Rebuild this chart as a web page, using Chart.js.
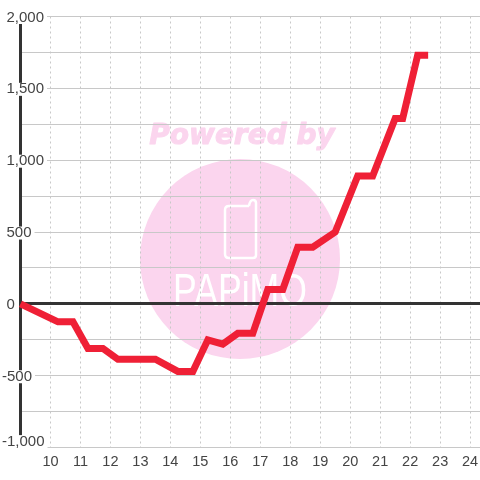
<!DOCTYPE html>
<html><head><meta charset="utf-8">
<style>html,body{margin:0;padding:0;background:#fff}#w{width:480px;height:480px;position:relative}</style>
<script src="https://cdn.jsdelivr.net/npm/chart.js@4"></script>
</head><body><div id="w"><canvas id="c" width="480" height="480"></canvas></div>
<script>
const hours = [9,10.25,10.75,11.25,11.75,12.25,13.5,14.25,14.75,15.25,15.75,16.25,16.75,17.25,17.75,18.25,18.75,19.5,20.25,20.75,21.5,21.75,22.25,22.6];
const profit = [0,-125,-125,-310,-310,-385,-385,-470,-470,-250,-280,-205,-205,100,100,395,395,500,890,890,1290,1290,1730,1730];
const yMin=-1000, yMax=2000, yStep=250, labelStep=500;
const xMin=9, xMax=24.33;
const watermarkTop='Powered by', watermarkBrand='PAPiMO';

const watermark={id:'watermark',
 afterLayout(chart){
  const s=chart.scales.y;
  s._computeLabelArea=()=>null;
  const orig=s._computeLabelItems.bind(s);
  s._computeLabelItems=ca=>{
    const items=orig(ca);
    items.forEach(it=>{
      const o=it.options;
      o.translation[1]+=(it.label==='-1,000'?-6:1);
      o.translation[0]=String(it.label).startsWith('-')?2:6.5;
      o.textAlign='left';
      if(o.backdrop) o.backdrop.left=-1;
    });
    return items;
  };
 },
 beforeDraw(chart){
  const c=chart.ctx; c.save();
  c.fillStyle='#fff'; c.fillRect(0,0,480,480);
  c.fillStyle='#fbd5ee';
  c.beginPath(); c.arc(240,259,100,0,Math.PI*2); c.fill();
  c.font='italic bold 28px "DejaVu Sans"'; c.textAlign='center'; c.textBaseline='alphabetic';
  c.strokeStyle='#fbd5ee'; c.lineWidth=1; c.lineJoin='round';
  c.fillText(watermarkTop,242,144); c.strokeText(watermarkTop,242,144);
  c.strokeStyle='#fff'; c.lineWidth=2.5;
  c.beginPath();
  c.moveTo(249,206); c.lineTo(229,206); c.quadraticCurveTo(225,206,225,210);
  c.lineTo(225,254); c.quadraticCurveTo(225,258,229,258);
  c.lineTo(253,258); c.quadraticCurveTo(256,258,256,255);
  c.lineTo(256,203); c.quadraticCurveTo(256,200,253,200); c.quadraticCurveTo(250,200,249,206);
  c.stroke();
  c.fillStyle='#fff'; c.font='46px "Liberation Sans"';
  c.fillText(watermarkBrand,240,306,134);
  c.restore();
}};

new Chart(document.getElementById('c'),{
  type:'line',
  data:{datasets:[{data:hours.map((h,i)=>({x:h,y:profit[i]})),borderColor:'#ef2036',borderWidth:7,pointRadius:0,tension:0,fill:false,borderCapStyle:'butt',borderJoinStyle:'miter',clip:false}]},
  options:{
    responsive:false,animation:false,
    layout:{padding:{left:0,right:0,top:16.5,bottom:3}},
    plugins:{legend:{display:false},title:{display:false},tooltip:{enabled:false}},
    scales:{
      x:{type:'linear',min:xMin,max:xMax,
        afterFit:s=>{s.paddingRight=0;s.paddingLeft=0},
        border:{display:false,dash:[2,3]},
        grid:{drawTicks:false,color:c=>c.tick&&c.tick.value===xMin?'transparent':'#c8c8c8',lineWidth:1},
        ticks:{stepSize:1,includeBounds:false,autoSkip:false,maxRotation:0,padding:6,color:'#444',font:{family:'"Liberation Sans"',size:14.5},callback:v=>v===xMin?'':String(v)}
      },
      y:{type:'linear',min:yMin,max:yMax,
        afterFit:s=>{s.width=20.5},
        border:{display:true,color:'#333',width:3},
        grid:{drawTicks:false,color:c=>c.tick&&c.tick.value===0?'#333':'#c8c8c8',lineWidth:c=>c.tick&&c.tick.value===0?3:1},
        ticks:{stepSize:yStep,autoSkip:false,padding:-22.5,color:'#444',font:{family:'"Liberation Sans"',size:15,lineHeight:1},
          showLabelBackdrop:c=>c.tick.value%labelStep===0,
          backdropColor:'#fff',backdropPadding:{left:2,right:2,top:-1,bottom:-1},
          callback:v=>v%labelStep===0?v.toLocaleString('en-US'):''}
      }
    }
  },
  plugins:[watermark]
});
</script></body></html>
